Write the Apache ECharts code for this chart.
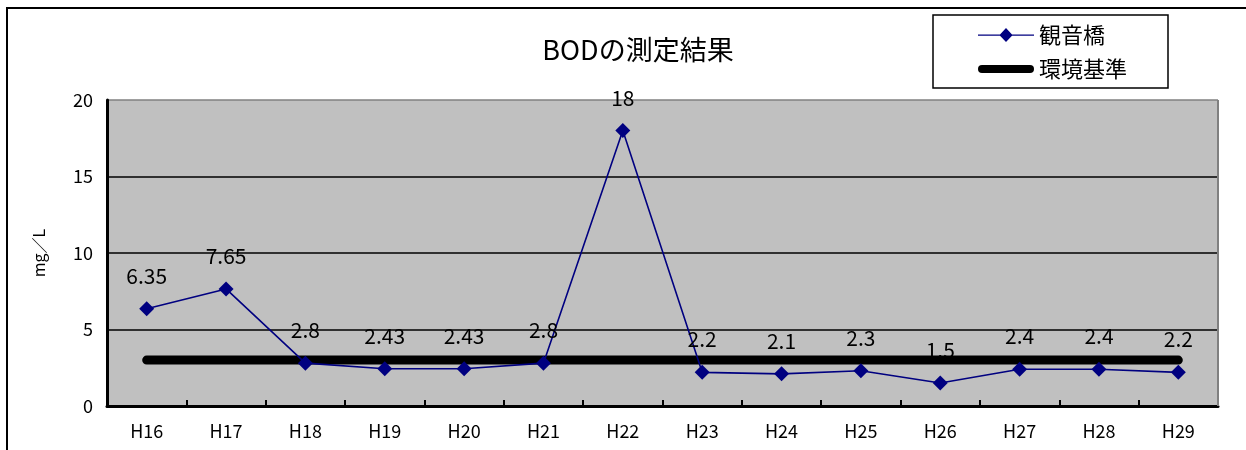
<!DOCTYPE html>
<html>
<head>
<meta charset="utf-8">
<script src="https://cdn.jsdelivr.net/npm/echarts@6/dist/echarts.min.js"></script>
<style>
  html, body { margin: 0; padding: 0; background: #fff; }
  #chart { width: 1246px; height: 450px; }
</style>
</head>
<body>
<div id="chart"></div>
<script>
// 年度ごとのBOD測定値（観音橋）と環境基準値
const years = ['H16', 'H17', 'H18', 'H19', 'H20', 'H21', 'H22', 'H23', 'H24', 'H25', 'H26', 'H27', 'H28', 'H29'];
const kannonbashi = [6.35, 7.65, 2.8, 2.43, 2.43, 2.8, 18, 2.2, 2.1, 2.3, 1.5, 2.4, 2.4, 2.2];
const standard = [3, 3, 3, 3, 3, 3, 3, 3, 3, 3, 3, 3, 3, 3];
const yTicks = [0, 5, 10, 15, 20];

const FONT = '"Noto Sans CJK JP", "Noto Sans", sans-serif';
const GRID = { left: 107, right: 28, top: 100, bottom: 44 };

const chart = echarts.init(document.getElementById('chart'));
chart.setOption({
  animation: false,
  backgroundColor: '#ffffff',
  textStyle: { fontFamily: FONT },
  title: {
    text: 'BODの測定結果',
    left: 633,
    top: 31,
    textAlign: 'center',
    textStyle: { fontFamily: FONT, fontSize: 27, fontWeight: 'normal', color: '#000' }
  },
  graphic: [
    {
      // 外枠
      type: 'rect',
      shape: { x: 7, y: 8, width: 1260, height: 500 },
      style: { fill: null, stroke: '#000', lineWidth: 2 },
      silent: true, z: 0
    },
    {
      // 凡例の枠
      type: 'rect',
      shape: { x: 933, y: 15, width: 235, height: 73 },
      style: { fill: '#fff', stroke: '#000', lineWidth: 1.5 },
      silent: true, z: 1
    },
    {
      // プロット領域の右端（灰色）
      type: 'line',
      shape: { x1: 1246 - GRID.right, y1: GRID.top, x2: 1246 - GRID.right, y2: 450 - GRID.bottom },
      style: { stroke: '#808080', lineWidth: 2 },
      silent: true, z: 1
    }
  ],
  legend: {
    left: 973,
    top: 19,
    orient: 'vertical',
    itemGap: 12,
    itemWidth: 56,
    itemHeight: 14,
    textStyle: { fontFamily: FONT, fontSize: 22, color: '#000' },
    data: [
      { name: '観音橋', icon: 'path://M0,6.5L22,6.5L28,0L34,6.5L56,6.5L56,7.8L34,7.8L28,14L22,7.8L0,7.8Z', itemStyle: { color: '#000080' } },
      { name: '環境基準', icon: 'path://M4,3L52,3A4,4 0 0 1 52,11L4,11A4,4 0 0 1 4,3Z', itemStyle: { color: '#000' } }
    ],
    z: 5
  },
  grid: GRID,
  xAxis: {
    type: 'category',
    data: years,
    boundaryGap: true,
    axisLine: { show: true, lineStyle: { color: '#000', width: 3 } },
    axisTick: { show: true, inside: true, length: 6, lineStyle: { color: '#000', width: 2 } },
    axisLabel: { fontFamily: FONT, fontSize: 18, color: '#000', margin: 16 },
    splitLine: { show: false }
  },
  yAxis: {
    type: 'value',
    min: 0,
    max: 20,
    interval: 5,
    name: 'mg／L',
    nameLocation: 'middle',
    nameGap: 60,
    nameRotate: 90,
    nameTextStyle: { fontFamily: FONT, fontSize: 16, color: '#000' },
    axisLine: { show: true, lineStyle: { color: '#000', width: 3 } },
    axisTick: { show: false },
    axisLabel: {
      fontFamily: FONT, fontSize: 18, color: '#000', margin: 14,
      formatter: v => (yTicks.includes(v) ? String(v) : '')
    },
    splitLine: {
      show: true,
      lineStyle: { color: ['#000', '#000', '#000', '#000', '#808080'], width: 1.5 }
    },
    splitArea: { show: true, areaStyle: { color: ['#c0c0c0'] } }
  },
  series: [
    {
      name: '環境基準',
      type: 'line',
      data: standard,
      symbol: 'none',
      lineStyle: { color: '#000', width: 9, cap: 'round' },
      itemStyle: { color: '#000' },
      z: 2
    },
    {
      name: '観音橋',
      type: 'line',
      data: kannonbashi,
      symbol: 'diamond',
      symbolSize: 15,
      lineStyle: { color: '#000080', width: 1.6 },
      itemStyle: { color: '#000080' },
      label: {
        show: true,
        position: 'top',
        distance: 15,
        fontFamily: FONT,
        fontSize: 21,
        color: '#000'
      },
      z: 3
    }
  ]
});
</script>
</body>
</html>
